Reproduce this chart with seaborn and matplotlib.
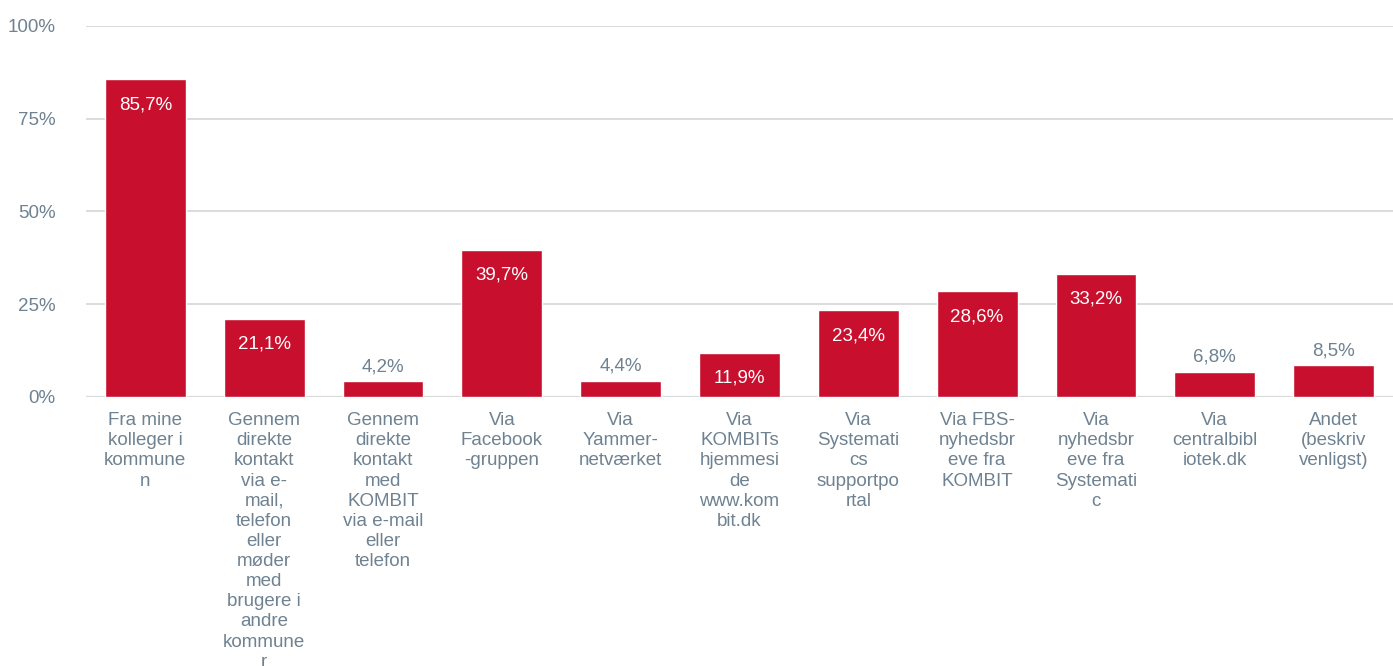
import matplotlib
matplotlib.use("Agg")
import matplotlib.pyplot as plt
import seaborn as sns
import pandas as pd

categories = [
    "Fra mine\nkolleger i\nkommune\nn",
    "Gennem\ndirekte\nkontakt\nvia e-\nmail,\ntelefon\neller\nmøder\nmed\nbrugere i\nandre\nkommune\nr",
    "Gennem\ndirekte\nkontakt\nmed\nKOMBIT\nvia e-mail\neller\ntelefon",
    "Via\nFacebook\n-gruppen",
    "Via\nYammer-\nnetværket",
    "Via\nKOMBITs\nhjemmesi\nde\nwww.kom\nbit.dk",
    "Via\nSystemati\ncs\nsupportpo\nrtal",
    "Via FBS-\nnyhedsbr\neve fra\nKOMBIT",
    "Via\nnyhedsbr\neve fra\nSystemati\nc",
    "Via\ncentralbibl\niotek.dk",
    "Andet\n(beskriv\nvenligst)",
]
values = [85.7, 21.1, 4.2, 39.7, 4.4, 11.9, 23.4, 28.6, 33.2, 6.8, 8.5]
y_ticks = [0, 25, 50, 75, 100]
y_tick_labels = ["0%", "25%", "50%", "75%", "100%"]

BAR_RED = "#C8102E"
TEXT_GREY = "#6F8291"
GRID_GREY = "#D9D9D9"

sns.set_theme(style="white")
plt.rcParams["font.family"] = ["Liberation Sans", "DejaVu Sans"]

df = pd.DataFrame({"kanal": categories, "andel": values})

fig = plt.figure(figsize=(13.93, 6.66), dpi=100)
ax = fig.add_axes([0.0617, 0.404, 0.9383, 0.557])

sns.barplot(data=df, x="kanal", y="andel", color=BAR_RED, saturation=1,
            width=0.68, ax=ax, zorder=3)

ax.set_ylim(0, 100)
ax.set_xlim(-0.5, len(categories) - 0.5)
ax.set_yticks(y_ticks)
ax.set_yticklabels(y_tick_labels)
ax.set_xlabel("")
ax.set_ylabel("")

for y in y_ticks:
    ax.axhline(y, color=GRID_GREY, lw=1.6 if y == 0 else 1.3, zorder=1)

for s in ax.spines.values():
    s.set_visible(False)

ax.tick_params(axis="y", length=0, pad=22, labelsize=13.5, labelcolor=TEXT_GREY)
ax.tick_params(axis="x", length=0, pad=11, labelsize=13.5, labelcolor=TEXT_GREY)
for lbl in ax.get_xticklabels():
    lbl.set_horizontalalignment("center")
    lbl.set_verticalalignment("top")
    lbl.set_linespacing(1.24)

# value labels: inside the bar when tall enough, otherwise above it
for i, v in enumerate(values):
    txt = f"{v:.1f}%".replace(".", ",")
    if v >= 10:
        ax.annotate(txt, (i, v), xytext=(0, -18.5), textcoords="offset points",
                    ha="center", va="center", color="white", fontsize=13.5, zorder=4)
    else:
        ax.annotate(txt, (i, v), xytext=(0, 10.5), textcoords="offset points",
                    ha="center", va="center", color=TEXT_GREY, fontsize=13.5, zorder=4)

fig.savefig("out.png", dpi=100)
